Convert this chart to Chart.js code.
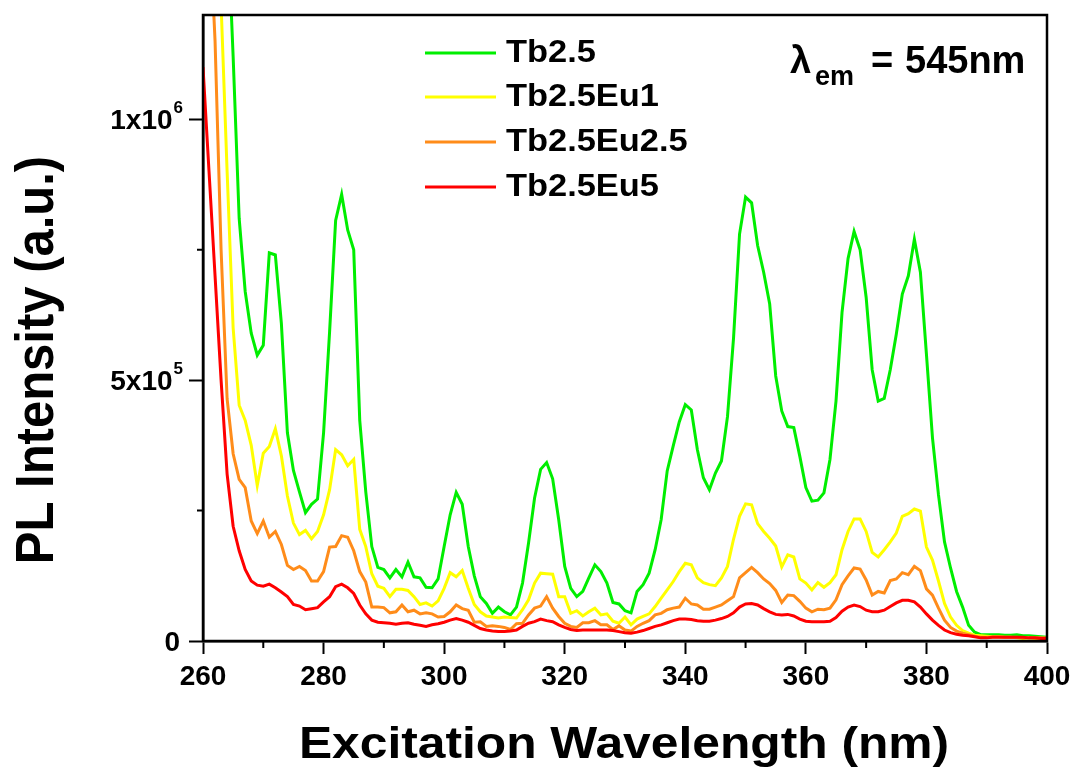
<!DOCTYPE html>
<html>
<head>
<meta charset="utf-8">
<title>PL excitation spectra</title>
<script src="https://cdn.jsdelivr.net/npm/chart.js@4.4.0/dist/chart.umd.min.js"></script>
<style>
  html, body { margin: 0; padding: 0; background: #fff; }
</style>
</head>
<body>
<canvas id="pl-chart" width="1077" height="770"></canvas>
<script>
// Excitation spectra, lambda_em = 545 nm
// intensities are in units of 1e5 counts (a.u.)

const wavelengths = [
  260, 261, 262, 263, 264, 265, 266, 267, 268, 269,
  270, 271, 272, 273, 274, 275, 276, 277, 278, 279,
  280, 281, 282, 283, 284, 285, 286, 287, 288, 289,
  290, 291, 292, 293, 294, 295, 296, 297, 298, 299,
  300, 301, 302, 303, 304, 305, 306, 307, 308, 309,
  310, 311, 312, 313, 314, 315, 316, 317, 318, 319,
  320, 321, 322, 323, 324, 325, 326, 327, 328, 329,
  330, 331, 332, 333, 334, 335, 336, 337, 338, 339,
  340, 341, 342, 343, 344, 345, 346, 347, 348, 349,
  350, 351, 352, 353, 354, 355, 356, 357, 358, 359,
  360, 361, 362, 363, 364, 365, 366, 367, 368, 369,
  370, 371, 372, 373, 374, 375, 376, 377, 378, 379,
  380, 381, 382, 383, 384, 385, 386, 387, 388, 389,
  390, 391, 392, 393, 394, 395, 396, 397, 398, 399,
  400
];

const tb25 = [
  26, 23, 20, 17, 14, 11.2, 8.1, 6.7, 5.9, 5.48,
  5.67, 7.44, 7.4, 6.09, 3.99, 3.27, 2.86, 2.46, 2.62, 2.72,
  3.99, 5.93, 8.06, 8.56, 7.88, 7.5, 4.23, 2.86, 1.81, 1.41,
  1.37, 1.21, 1.37, 1.23, 1.51, 1.23, 1.21, 1.03, 1.02, 1.19,
  1.81, 2.42, 2.85, 2.62, 1.81, 1.25, 0.85, 0.72, 0.53, 0.65,
  0.56, 0.5, 0.65, 1.11, 1.88, 2.74, 3.29, 3.42, 3.11, 2.33,
  1.43, 1.01, 0.85, 0.95, 1.21, 1.46, 1.33, 1.11, 0.74, 0.71,
  0.58, 0.54, 0.95, 1.08, 1.3, 1.75, 2.33, 3.26, 3.74, 4.2,
  4.53, 4.43, 3.67, 3.13, 2.9, 3.22, 3.45, 4.3, 5.8, 7.8,
  8.51, 8.4, 7.58, 7.07, 6.46, 5.08, 4.41, 4.11, 4.09, 3.54,
  2.94, 2.68, 2.7, 2.84, 3.48, 4.6, 6.3, 7.33, 7.85, 7.5,
  6.59, 5.2, 4.6, 4.65, 5.2, 5.88, 6.65, 7.0, 7.7, 7.07,
  5.5, 3.9, 2.8, 1.9, 1.4, 0.95, 0.65, 0.3, 0.17, 0.12,
  0.12, 0.12, 0.12, 0.11, 0.11, 0.12, 0.1, 0.1, 0.09, 0.08,
  0.07
];

const tb25eu1 = [
  21, 18, 15, 12.2, 9.0, 6.0, 4.52, 4.23, 3.75, 2.98,
  3.6, 3.73, 4.07, 3.55, 2.78, 2.26, 2.04, 2.12, 1.96, 2.1,
  2.42, 2.9, 3.67, 3.57, 3.36, 3.48, 2.14, 1.81, 1.29, 1.05,
  1.01, 0.85, 0.99, 0.99, 0.97, 0.85, 0.7, 0.73, 0.67, 0.77,
  1.01, 1.31, 1.23, 1.35, 1.01, 0.7, 0.56, 0.48, 0.46, 0.44,
  0.46, 0.45, 0.44, 0.6, 0.79, 1.11, 1.3, 1.29, 1.28, 0.85,
  0.85, 0.53, 0.58, 0.48, 0.56, 0.63, 0.5, 0.52, 0.38, 0.34,
  0.46, 0.31, 0.42, 0.47, 0.52, 0.66, 0.82, 0.98, 1.14, 1.33,
  1.49, 1.46, 1.21, 1.12, 1.08, 1.06, 1.21, 1.43, 1.95, 2.39,
  2.63, 2.61, 2.25, 2.1, 1.97, 1.82, 1.42, 1.65, 1.61, 1.19,
  1.11, 0.98, 1.12, 1.03, 1.12, 1.27, 1.75, 2.1, 2.34, 2.34,
  2.1, 1.7, 1.61, 1.75, 1.9, 2.07, 2.39, 2.44, 2.53, 2.49,
  1.8, 1.55, 1.15, 0.72, 0.46, 0.3, 0.2, 0.15, 0.11, 0.1,
  0.09, 0.08, 0.08, 0.07, 0.07, 0.06, 0.05, 0.06, 0.05, 0.05,
  0.05
];

const tb25eu25 = [
  17, 14, 11.5, 7.5, 4.64, 3.59, 3.1, 2.94, 2.3, 2.06,
  2.3, 1.99, 2.1, 1.85, 1.45, 1.37, 1.43, 1.35, 1.15, 1.15,
  1.33, 1.8, 1.81, 2.02, 1.99, 1.73, 1.33, 1.13, 0.65, 0.65,
  0.64, 0.54, 0.56, 0.69, 0.56, 0.59, 0.52, 0.54, 0.52, 0.46,
  0.47, 0.56, 0.69, 0.62, 0.59, 0.36, 0.37, 0.28, 0.29, 0.28,
  0.26, 0.22, 0.33, 0.34, 0.5, 0.63, 0.67, 0.85, 0.63, 0.47,
  0.34, 0.28, 0.26, 0.35, 0.35, 0.39, 0.31, 0.31, 0.22, 0.29,
  0.21, 0.19, 0.28, 0.34, 0.39, 0.5, 0.53, 0.6, 0.63, 0.65,
  0.82, 0.71, 0.69, 0.61, 0.61, 0.65, 0.69, 0.77, 0.85, 1.21,
  1.31, 1.41, 1.31, 1.19, 1.1, 0.97, 0.74, 0.88, 0.87, 0.76,
  0.63, 0.56, 0.61, 0.6, 0.63, 0.79, 1.08, 1.25, 1.4, 1.38,
  1.17, 0.88, 0.95, 0.92, 1.16, 1.19, 1.31, 1.27, 1.43, 1.35,
  1.0, 0.88, 0.63, 0.4, 0.26, 0.19, 0.15, 0.12, 0.09, 0.07,
  0.07, 0.08, 0.08, 0.07, 0.07, 0.07, 0.06, 0.06, 0.06, 0.06,
  0.06
];

const tb25eu5 = [
  11.0, 9.0, 7.0, 5.0, 3.2, 2.2, 1.73, 1.37, 1.15, 1.07,
  1.05, 1.09, 1.02, 0.94, 0.85, 0.7, 0.67, 0.6, 0.62, 0.64,
  0.75, 0.85, 1.04, 1.09, 1.02, 0.91, 0.69, 0.52, 0.4, 0.36,
  0.35, 0.34, 0.32, 0.34, 0.35, 0.32, 0.3, 0.28, 0.31, 0.33,
  0.36, 0.4, 0.43, 0.4, 0.36, 0.3, 0.24, 0.21, 0.19, 0.18,
  0.18, 0.19, 0.21, 0.28, 0.34, 0.37, 0.42, 0.39, 0.37, 0.31,
  0.26, 0.22, 0.2, 0.21, 0.21, 0.21, 0.21, 0.21, 0.2, 0.18,
  0.16, 0.15, 0.17, 0.2, 0.24, 0.28, 0.31, 0.35, 0.39, 0.42,
  0.42, 0.41, 0.39, 0.38, 0.38, 0.4, 0.43, 0.47, 0.54, 0.65,
  0.71, 0.72, 0.69, 0.62, 0.56, 0.51, 0.5, 0.51, 0.48, 0.42,
  0.38, 0.37, 0.37, 0.37, 0.38, 0.45, 0.57, 0.65, 0.69, 0.66,
  0.59, 0.56, 0.56, 0.59, 0.66, 0.73, 0.78, 0.78, 0.75, 0.65,
  0.52, 0.4, 0.3, 0.21, 0.16, 0.13, 0.11, 0.1, 0.08, 0.06,
  0.06, 0.07, 0.07, 0.07, 0.07, 0.07, 0.07, 0.06, 0.06, 0.05,
  0.05
];

const seriesNames = ['Tb2.5', 'Tb2.5Eu1', 'Tb2.5Eu2.5', 'Tb2.5Eu5'];
const seriesColors = ['#00ee00', '#ffff00', '#ff8c1a', '#ff0000'];
// y tick labels: [value, mantissa, exponent]
const yTickLabels = [[0, '0', ''], [5, '5x10', '5'], [10, '1x10', '6']];
const xTitle = 'Excitation Wavelength (nm)';
const yTitle = 'PL Intensity (a.u.)';

const FONT = "'Liberation Sans', Arial, sans-serif";

function isMajorX(v) { return v % 20 === 0; }
function isMajorY(v) { return v % 5 === 0; }

// titles, y labels, minor ticks, legend, lambda note and frame
const decorations = {
  id: 'decorations',
  afterDraw(chart) {
    const c = chart.ctx;
    const area = chart.chartArea;
    const xs = chart.scales.x;
    const ys = chart.scales.y;
    c.save();
    c.fillStyle = '#000';
    c.strokeStyle = '#000';

    // frame
    c.lineWidth = 2.5;
    c.strokeRect(area.left, area.top, area.right - area.left, area.bottom - area.top);

    // minor ticks (short)
    c.lineWidth = 2;
    c.beginPath();
    xs.ticks.forEach((t) => {
      if (isMajorX(t.value)) return;
      const px = xs.getPixelForValue(t.value);
      c.moveTo(px, area.bottom);
      c.lineTo(px, area.bottom + 7);
    });
    ys.ticks.forEach((t) => {
      if (isMajorY(t.value)) return;
      const py = ys.getPixelForValue(t.value);
      c.moveTo(area.left, py);
      c.lineTo(area.left - 6, py);
    });
    c.stroke();

    // y tick labels with superscript exponent
    c.textBaseline = 'middle';
    yTickLabels.forEach(([v, base, exp]) => {
      const py = ys.getPixelForValue(v);
      let right = area.left - 20;
      if (exp) {
        c.font = 'bold 17px ' + FONT;
        c.textAlign = 'right';
        c.fillText(exp, right, py - 11);
        right -= c.measureText(exp).width + 1;
      } else {
        right -= 3;
      }
      c.font = 'bold 28px ' + FONT;
      c.textAlign = 'right';
      c.fillText(base, right, py + 2);
    });

    // axis titles
    c.textAlign = 'center';
    c.textBaseline = 'alphabetic';
    c.save();
    c.translate((area.left + area.right) / 2 - 1, 758);
    c.scale(1.105, 1);
    c.font = 'bold 45px ' + FONT;
    c.fillText(xTitle, 0, 0);
    c.restore();

    c.save();
    c.translate(53, 360);
    c.rotate(-Math.PI / 2);
    c.scale(1, 1.1);
    c.font = 'bold 49px ' + FONT;
    c.fillText(yTitle, 0, 0);
    c.restore();

    // legend
    const rows = [53, 97, 142, 187];
    chart.data.datasets.forEach((ds, i) => {
      c.strokeStyle = ds.borderColor;
      c.lineWidth = 3;
      c.beginPath();
      c.moveTo(425, rows[i]);
      c.lineTo(496, rows[i]);
      c.stroke();
      c.save();
      c.translate(506, rows[i] + 9);
      c.scale(1.11, 1);
      c.font = 'bold 31px ' + FONT;
      c.textAlign = 'left';
      c.fillText(ds.label, 0, 0);
      c.restore();
    });

    // lambda_em = 545nm
    c.textAlign = 'left';
    c.font = 'bold 38px ' + FONT;
    c.fillText('\u03bb', 790, 73);
    c.font = 'bold 27px ' + FONT;
    c.fillText('em', 815, 85);
    c.font = 'bold 38px ' + FONT;
    c.fillText('=', 871, 73);
    c.fillText('545nm', 905, 73);

    c.restore();
  }
};

const ctx = document.getElementById('pl-chart').getContext('2d');
new Chart(ctx, {
  type: 'line',
  data: {
    labels: wavelengths,
    datasets: [
      { label: seriesNames[0], data: tb25, borderColor: seriesColors[0], order: 4 },
      { label: seriesNames[1], data: tb25eu1, borderColor: seriesColors[1], order: 3 },
      { label: seriesNames[2], data: tb25eu25, borderColor: seriesColors[2], order: 2 },
      { label: seriesNames[3], data: tb25eu5, borderColor: seriesColors[3], order: 1 }
    ]
  },
  options: {
    responsive: false,
    animation: false,
    devicePixelRatio: 1,
    layout: { padding: { left: 0, right: 30, top: 15, bottom: 0 } },
    elements: {
      line: { borderWidth: 3, tension: 0, fill: false },
      point: { radius: 0 }
    },
    plugins: {
      legend: { display: false },
      tooltip: { enabled: false }
    },
    scales: {
      x: {
        type: 'linear',
        min: 260,
        max: 400,
        afterFit: (scale) => { scale.height = 129; },
        grid: {
          drawOnChartArea: false,
          drawTicks: true,
          tickLength: 13,
          tickWidth: 2,
          tickColor: (c) => (c.tick && isMajorX(c.tick.value) ? '#000' : 'rgba(0,0,0,0)')
        },
        border: { display: true, color: '#000', width: 2.5 },
        ticks: {
          stepSize: 10,
          maxRotation: 0,
          autoSkip: false,
          padding: 6,
          color: '#000',
          font: { family: FONT, size: 28, weight: 'bold' },
          callback: (v) => (isMajorX(v) ? String(v) : '')
        }
      },
      y: {
        min: 0,
        max: 12,
        afterFit: (scale) => { scale.width = 203; },
        afterBuildTicks: (scale) => {
          scale.ticks = scale.ticks.filter((t) => Math.abs(t.value / 2.5 - Math.round(t.value / 2.5)) < 1e-6);
        },
        grid: {
          drawOnChartArea: false,
          drawTicks: true,
          tickLength: 14,
          tickWidth: 2,
          tickColor: (c) => (c.tick && isMajorY(c.tick.value) ? '#000' : 'rgba(0,0,0,0)')
        },
        border: { display: true, color: '#000', width: 2.5 },
        ticks: {
          stepSize: 2.5,
          autoSkip: false,
          color: '#000',
          callback: () => ''
        }
      }
    }
  },
  plugins: [decorations]
});
</script>
</body>
</html>
